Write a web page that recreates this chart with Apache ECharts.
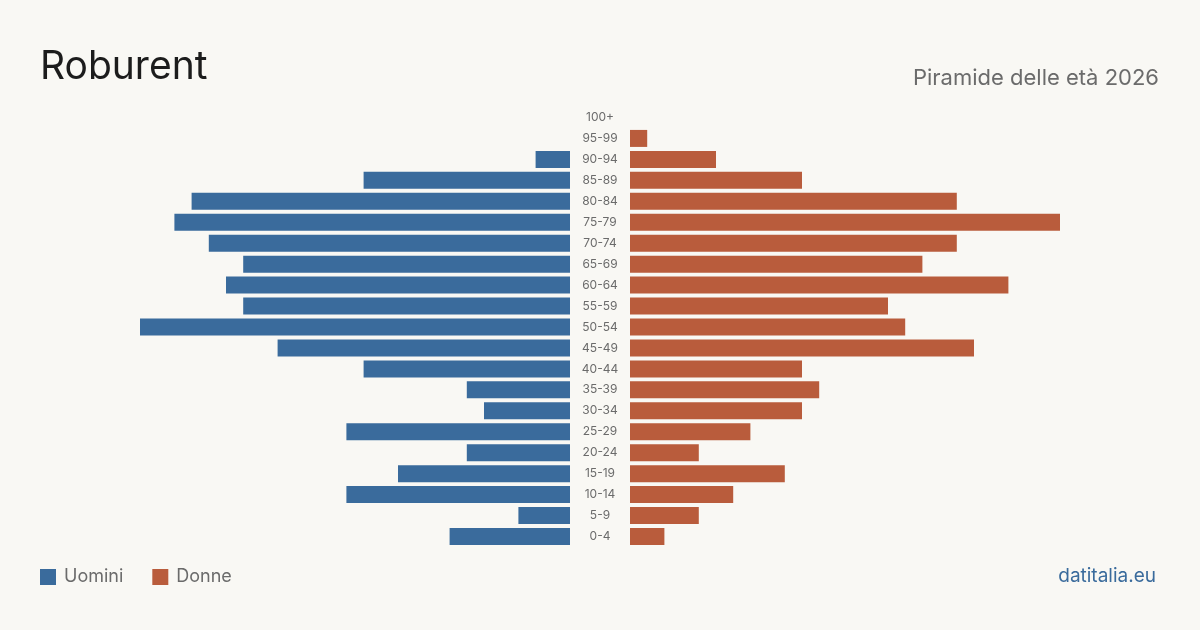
<!DOCTYPE html>
<html>
<head>
    <meta charset="utf-8" />
    <title>Roburent - Piramide delle età 2026</title>
    <script src="https://cdn.jsdelivr.net/npm/echarts@6/dist/echarts.min.js"></script>
    <style type="text/css">
        html, body {
            margin: 0;
            padding: 0;
            width: 1200px;
            height: 630px;
            background-color: #f9f8f4;
            overflow: hidden;
        }

        #chart {
            width: 1200px;
            height: 630px;
        }
    </style>
</head>
<body>
    <div id="chart"></div>
    <script type="text/javascript">
        // classi di età, dal basso verso l'alto
        var ageGroups = ['0-4', '5-9', '10-14', '15-19', '20-24', '25-29', '30-34', '35-39', '40-44', '45-49',
            '50-54', '55-59', '60-64', '65-69', '70-74', '75-79', '80-84', '85-89', '90-94', '95-99', '100+'];
        var uomini = [7, 3, 13, 10, 6, 13, 5, 6, 12, 17, 25, 19, 20, 19, 21, 23, 22, 12, 2, 0, 0];
        var donne = [2, 4, 6, 9, 4, 7, 10, 11, 10, 20, 16, 15, 22, 17, 19, 25, 19, 10, 5, 1, 0];
        var axisMax = 25;

        var BLUE = '#3a6b9c';
        var RED = '#b95c3c';
        var FONT = 'Inter, "Noto Sans", sans-serif';

        var myChart = echarts.init(document.getElementById('chart'), null, { renderer: 'canvas' });

        var option = {
            backgroundColor: '#f9f8f4',
            animation: false,
            textStyle: { fontFamily: FONT },
            title: [
                {
                    text: 'Roburent',
                    left: 35,
                    top: 43,
                    textStyle: { fontSize: 39, fontWeight: 'normal', color: '#1c1c1c', fontFamily: FONT }
                },
                {
                    text: 'Piramide delle età 2026',
                    right: 36,
                    top: 62,
                    textStyle: { fontSize: 22, fontWeight: 'normal', color: '#6b6b6b', fontFamily: FONT }
                },
                {
                    text: 'datitalia.eu',
                    right: 39,
                    top: 562,
                    textStyle: { fontSize: 19, fontWeight: 'normal', color: '#3a6b9c', fontFamily: FONT }
                }
            ],
            legend: {
                left: 35,
                top: 563,
                itemWidth: 16,
                itemHeight: 16,
                itemGap: 29,
                icon: 'rect',
                textStyle: { fontSize: 18, color: '#6b6b6b', fontFamily: FONT, padding: [0, 0, 0, 3] },
                data: ['Uomini', 'Donne']
            },
            grid: [
                { left: 140, width: 430, top: 107, height: 440 },
                { left: 630, width: 430, top: 107, height: 440 }
            ],
            xAxis: [
                {
                    type: 'value', gridIndex: 0, inverse: true, min: 0, max: axisMax,
                    show: false
                },
                {
                    type: 'value', gridIndex: 1, min: 0, max: axisMax,
                    show: false
                }
            ],
            yAxis: [
                {
                    type: 'category', gridIndex: 0, position: 'right', data: ageGroups,
                    axisLine: { show: false },
                    axisTick: { show: false },
                    axisLabel: {
                        align: 'center', margin: 30,
                        fontSize: 12, color: '#6b6b6b', fontFamily: FONT
                    }
                },
                {
                    type: 'category', gridIndex: 1, data: ageGroups,
                    axisLine: { show: false },
                    axisTick: { show: false },
                    axisLabel: { show: false }
                }
            ],
            series: [
                {
                    name: 'Uomini',
                    type: 'bar',
                    xAxisIndex: 0,
                    yAxisIndex: 0,
                    barWidth: 17,
                    itemStyle: { color: BLUE },
                    data: uomini
                },
                {
                    name: 'Donne',
                    type: 'bar',
                    xAxisIndex: 1,
                    yAxisIndex: 1,
                    barWidth: 17,
                    itemStyle: { color: RED },
                    data: donne
                }
            ]
        };

        myChart.setOption(option);
        window.onresize = myChart.resize;
    </script>
</body>
</html>
